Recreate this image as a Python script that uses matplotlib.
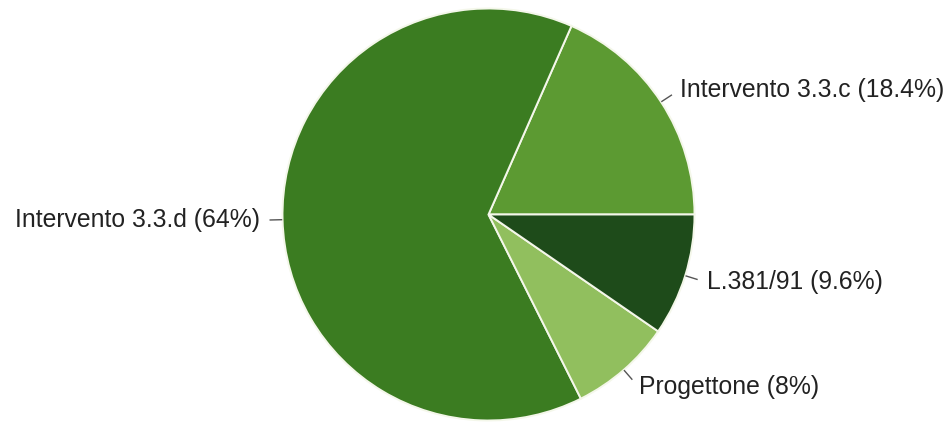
import numpy as np
import matplotlib
matplotlib.use("Agg")
import matplotlib.pyplot as plt

plt.rcParams['font.family'] = ['Liberation Sans', 'DejaVu Sans']

# quote di finanziamento, in senso antiorario partendo dalle ore 3
labels = ["Intervento 3.3.c", "Intervento 3.3.d", "Progettone", "L.381/91"]
shares = [18.4, 64, 8, 9.6]
colors = ["#5c9a32", "#3b7c21", "#91bf5e", "#1e4b1a"]

fig = plt.figure(figsize=(9.53, 4.23), dpi=100)
ax = fig.add_axes([282.5 / 953, 2.5 / 423, 412 / 953, 412 / 423])

wedges, _ = ax.pie(shares, colors=colors, startangle=0, counterclock=True,
                   radius=1.0,
                   wedgeprops=dict(edgecolor="#f4f7ea", linewidth=1.4))

for w, lab, val in zip(wedges, labels, shares):
    ang = np.deg2rad((w.theta1 + w.theta2) / 2)
    c, s = np.cos(ang), np.sin(ang)
    # trattino di richiamo radiale
    ax.plot([1.005 * c, 1.06 * c], [1.005 * s, 1.06 * s], color="#555555",
            lw=1.0, clip_on=False)
    txt = f"{lab} ({val:g}%)"
    ha = "left" if c >= 0 else "right"
    ax.text(1.11 * c, 1.11 * s, txt, ha=ha, va="center", fontsize=17.8,
            color="#222222", clip_on=False)

ax.set_xlim(-1, 1)
ax.set_ylim(-1, 1)
ax.set_aspect("equal")
ax.axis("off")

fig.savefig("out.png", dpi=100)
